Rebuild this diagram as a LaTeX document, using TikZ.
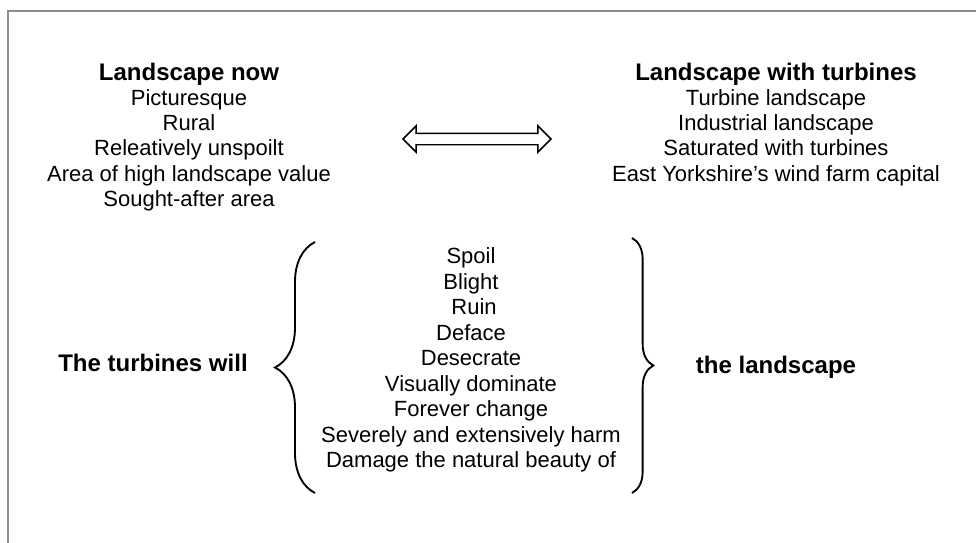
\documentclass[tikz,border=0pt]{standalone}
\usepackage{fontspec}
\setmainfont{Liberation Sans}
\usetikzlibrary{shapes.arrows,decorations.pathreplacing}

\tikzset{
  heading/.style={font=\fontsize{18}{20}\selectfont\bfseries, inner sep=0pt, text height=13pt, text depth=3.8pt},
  entry/.style={font=\fontsize{16.5}{19}\selectfont, inner sep=0pt, text height=12pt, text depth=3.5pt},
  curly/.style={decorate, decoration={brace, amplitude=#1}, line width=1.4pt},
  frame/.style={draw=black!45, line width=1.5pt}
}

\begin{document}
\begin{tikzpicture}[x=0.75pt,y=-0.75pt]
\useasboundingbox (0,0) rectangle (976,543);
\draw[frame] (976,11) -- (8,11) -- (8,543);

% landscape now / with turbines
\node[heading] (now) at (189,74) {Landscape now};
\foreach \txt [count=\i] in {Picturesque,Rural,Releatively unspoilt,Area of high landscape value,Sought-after area}
  \node[entry] (now\i) at (189,74+25.4*\i) {\txt};

\node[heading] (future) at (776,74) {Landscape with turbines};
\foreach \txt [count=\i] in {Turbine landscape,Industrial landscape,Saturated with turbines,East Yorkshire's wind farm capital}
  \node[entry] (future\i) at (776,74+25.4*\i) {\txt};

\node[draw, line width=1.1pt, double arrow, double arrow head extend=5.6pt,
  minimum height=111pt, minimum width=0pt, inner xsep=0pt, inner ysep=3.75pt] (swap) at (477,139) {};

% the turbines will ... the landscape
\node[heading] (will) at (153,365) {The turbines will};
\node[heading] (land) at (776,367) {the landscape};
\foreach \txt [count=\i] in {Spoil,Blight,\ Ruin,Deface,Desecrate,Visually dominate,Forever change,Severely and extensively harm,Damage the natural beauty of}
  \node[entry] (verb\i) at (471,258+25.5*\i-25.5) {\txt};

\coordinate (ltop) at (315,242);
\coordinate (lbot) at (315,493);
\coordinate (rtop) at (632,238);
\coordinate (rbot) at (632,493);
\draw[curly=30pt] (lbot) -- (ltop);
\draw[curly=16pt] (rtop) -- (rbot);
\end{tikzpicture}
\end{document}
